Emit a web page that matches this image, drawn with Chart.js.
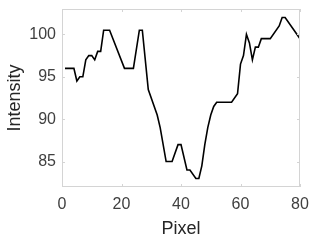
<!DOCTYPE html>
<html lang="en">
<head>
<meta charset="UTF-8">
<title>Intensity profile</title>
<script src="https://cdn.jsdelivr.net/npm/chart.js@4.4.1/dist/chart.umd.min.js"></script>
<style>
  html, body { margin: 0; padding: 0; background: #fff; }
  #wrap { width: 314px; height: 241px; position: relative; }
</style>
</head>
<body>
<div id="wrap"><canvas id="chart"></canvas></div>
<script>
// Intensity profile (pixel index -> intensity)
const pixels = [1, 4, 5, 6, 7, 8, 9, 10, 11, 12, 13, 14, 16, 21, 24, 26, 27, 29, 32, 33, 35, 37, 39, 40,
  42, 43, 45, 46, 47, 48, 49, 50, 51, 52, 57, 59, 60, 61, 62, 63, 64, 65, 66, 67, 70, 73, 74, 75, 80];
const intensity = [96, 96, 94.5, 95, 95, 97, 97.5, 97.5, 97, 98, 98, 100.5, 100.5, 96, 96, 100.5, 100.5, 93.5, 90.5, 89, 85, 85, 87, 87,
  84, 84, 83, 83, 84.5, 87, 89, 90.5, 91.5, 92, 92, 93, 96.5, 97.5, 100, 99, 97, 98.5, 98.5, 99.5, 99.5, 101, 102, 102, 99.5];

const xTicks = [0, 20, 40, 60, 80];
const yTicks = [85, 90, 95, 100];

const FONT = 'Liberation Sans, Arial, Helvetica, sans-serif';

// box round the plot and short inward tick marks, like the reference
const boxPlugin = {
  id: 'box',
  afterDraw(chart) {
    const { ctx, chartArea: a, scales } = chart;
    ctx.save();
    ctx.strokeStyle = '#d4d4d4';
    ctx.lineWidth = 1;
    ctx.strokeRect(a.left + 0.5, a.top + 0.5, a.right - a.left - 1, a.bottom - a.top - 1);
    ctx.beginPath();
    xTicks.forEach(v => {
      const px = Math.round(scales.x.getPixelForValue(v)) + 0.5;
      ctx.moveTo(px, a.bottom); ctx.lineTo(px, a.bottom - 3);
      ctx.moveTo(px, a.top); ctx.lineTo(px, a.top + 3);
    });
    yTicks.forEach(v => {
      const py = Math.round(scales.y.getPixelForValue(v)) + 0.5;
      ctx.moveTo(a.left, py); ctx.lineTo(a.left + 3, py);
      ctx.moveTo(a.right, py); ctx.lineTo(a.right - 3, py);
    });
    ctx.stroke();
    ctx.restore();
  }
};

new Chart(document.getElementById('chart'), {
  type: 'line',
  data: {
    datasets: [{
      data: pixels.map((p, i) => ({ x: p, y: intensity[i] })),
      borderColor: '#000',
      borderWidth: 1.6,
      pointRadius: 0,
      tension: 0,
      fill: false
    }]
  },
  options: {
    responsive: true,
    maintainAspectRatio: false,
    animation: false,
    layout: { padding: { top: 9, right: 14, left: 0, bottom: 0 } },
    plugins: { legend: { display: false }, tooltip: { enabled: false } },
    scales: {
      x: {
        type: 'linear',
        min: 0, max: 80,
        afterBuildTicks: s => { s.ticks = xTicks.map(v => ({ value: v })); },
        afterFit: s => { s.height = 54; s.paddingLeft = 0; s.paddingRight = 0; },
        grid: { display: false, drawTicks: false },
        border: { display: false },
        ticks: { color: '#404040', font: { family: FONT, size: 16 }, padding: 8, maxRotation: 0 },
        title: { display: true, text: 'Pixel', color: '#262626', font: { family: FONT, size: 18 }, padding: { top: 0, bottom: 1 } }
      },
      y: {
        min: 82, max: 103,
        afterBuildTicks: s => { s.ticks = yTicks.map(v => ({ value: v })); },
        afterFit: s => { s.width = 62; s.paddingTop = 0; s.paddingBottom = 0; },
        grid: { display: false, drawTicks: false },
        border: { display: false },
        ticks: { color: '#404040', font: { family: FONT, size: 16 }, padding: 6 },
        title: { display: true, text: 'Intensity', color: '#262626', font: { family: FONT, size: 18 }, padding: { bottom: 4 } }
      }
    }
  },
  plugins: [boxPlugin]
});
</script>
</body>
</html>
